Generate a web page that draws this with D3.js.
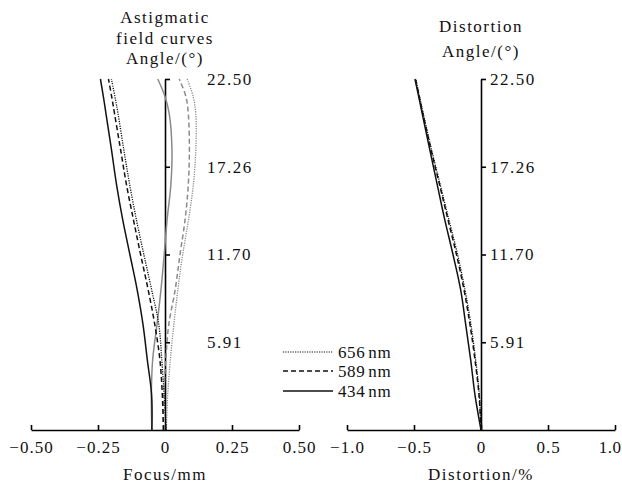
<!DOCTYPE html>
<html>
<head>
<meta charset="utf-8">
<script src="https://cdn.jsdelivr.net/npm/d3@7"></script>
<style>
  body { margin: 0; background: #fff; }
  text { font-family: "Liberation Serif", "DejaVu Serif", serif; fill: #111; }
</style>
</head>
<body>
<script>
// Page size
const width = 622;
const height = 486;

// Normalized field positions (0 = axis, 1 = full field of 22.50 deg)
var fields = [0, 0.1, 0.2, 0.3, 0.4, 0.5, 0.6, 0.7, 0.8, 0.9, 0.95, 1];
var fieldTicks = [0.25, 0.5, 0.75, 1];
var angleLabels = ["5.91", "11.70", "17.26", "22.50"];

// Astigmatic field curves (mm), sagittal = black, tangential = gray
var s656 = [0.005, -0.003, -0.012, -0.023, -0.050, -0.079, -0.107, -0.132, -0.154, -0.175, -0.187, -0.200];
var s589 = [-0.006, -0.010, -0.019, -0.038, -0.063, -0.091, -0.118, -0.144, -0.166, -0.188, -0.199, -0.211];
var s434 = [-0.049, -0.050, -0.066, -0.082, -0.104, -0.131, -0.158, -0.181, -0.200, -0.220, -0.230, -0.241];
var t656 = [0.005, 0.010, 0.020, 0.033, 0.048, 0.066, 0.088, 0.106, 0.115, 0.115, 0.105, 0.083];
var t589 = [-0.006, -0.004, 0.003, 0.014, 0.038, 0.056, 0.075, 0.087, 0.091, 0.087, 0.078, 0.053];
var t434 = [-0.049, -0.051, -0.046, -0.030, -0.015, -0.003, 0.008, 0.022, 0.026, 0.016, 0.000, -0.027];

// Distortion (%)
var d656 = [0, -0.012, -0.040, -0.075, -0.120, -0.175, -0.240, -0.305, -0.370, -0.430, -0.459, -0.487];
var d589 = [0, -0.015, -0.045, -0.082, -0.127, -0.183, -0.247, -0.310, -0.374, -0.433, -0.461, -0.489];
var d434 = [0, -0.045, -0.077, -0.114, -0.152, -0.209, -0.271, -0.327, -0.383, -0.438, -0.465, -0.493];

var focusTicks = [-0.5, -0.25, 0, 0.25, 0.5];
var distTicks = [-1, -0.5, 0, 0.5, 1];
var legendLabels = ["656", "589", "434"];

var gray = "#8a8a8a";
var dotted = "1.2,1.2";
var dashed = "5,3";

var svg = d3.select("body")
    .append("svg")
    .attr("width", width)
    .attr("height", height);

// Scales
var y = d3.scaleLinear().domain([0, 1]).range([430, 79]);
var xFocus = d3.scaleLinear().domain([-0.5, 0.5]).range([31, 299]);
var xDist = d3.scaleLinear().domain([-1, 1]).range([347, 615]);

var fmtTick = function(v, digits) {
    return v === 0 ? "0" : d3.format("." + digits + "f")(v);
};

function drawAxes(x, ticks, digits, labelPad, title) {
    // bottom axis, ticks pointing up
    var gx = svg.append("g")
        .attr("transform", "translate(0,430)")
        .call(d3.axisBottom(x)
            .tickValues(ticks)
            .tickFormat(function(d) { return fmtTick(d, digits); })
            .tickSizeInner(-5)
            .tickSizeOuter(0)
            .tickPadding(11));
    gx.select(".domain").attr("stroke-width", 1.6);
    gx.selectAll(".tick line").attr("stroke-width", 1.6);
    gx.selectAll("text")
        .attr("font-size", 17)
        .attr("letter-spacing", "1px")
        .attr("font-family", "Liberation Serif");

    // angle axis through zero
    var gy = svg.append("g")
        .attr("transform", "translate(" + x(0) + ",0)")
        .call(d3.axisRight(y)
            .tickValues(fieldTicks)
            .tickFormat(function(d, i) { return angleLabels[i]; })
            .tickSizeInner(5)
            .tickSizeOuter(0)
            .tickPadding(labelPad));
    gy.select(".domain").attr("stroke-width", 1.6);
    gy.selectAll(".tick line").attr("stroke-width", 1.6);
    gy.selectAll("text")
        .attr("font-size", 17)
        .attr("letter-spacing", "1.5px")
        .attr("font-family", "Liberation Serif");

    svg.append("text")
        .attr("x", x(0))
        .attr("y", 480)
        .attr("text-anchor", "middle")
        .attr("font-size", 17)
        .attr("letter-spacing", "1.5px")
        .text(title);
    return gx;
}

drawAxes(xFocus, focusTicks, 2, 37, "Focus/mm");
var gDist = drawAxes(xDist, distTicks, 1, 4, "Distortion/%");
// last label sits against the page edge
gDist.selectAll(".tick text").filter(function(d) { return d === 1; })
    .attr("text-anchor", "end")
    .attr("letter-spacing", "0.5px")
    .attr("x", 6);

// Titles
var titleLeft = [["Astigmatic", 23], ["field curves", 44], ["Angle/(\u00b0)", 64]];
titleLeft.forEach(function(t) {
    svg.append("text")
        .attr("x", xFocus(0))
        .attr("y", t[1])
        .attr("text-anchor", "middle")
        .attr("font-size", 17)
        .attr("letter-spacing", "1.5px")
        .text(t[0]);
});
var titleRight = [["Distortion", 32], ["Angle/(\u00b0)", 57]];
titleRight.forEach(function(t) {
    svg.append("text")
        .attr("x", xDist(0))
        .attr("y", t[1])
        .attr("text-anchor", "middle")
        .attr("font-size", 17)
        .attr("letter-spacing", "1.5px")
        .text(t[0]);
});

// Curves
function curve(x, values, color, dash, w) {
    var line = d3.line()
        .x(function(d, i) { return x(d); })
        .y(function(d, i) { return y(fields[i]); })
        .curve(d3.curveCatmullRom);
    svg.append("path")
        .datum(values)
        .attr("fill", "none")
        .attr("stroke", color)
        .attr("stroke-width", w)
        .attr("stroke-dasharray", dash)
        .attr("d", line);
}

curve(xFocus, t656, gray, dotted, 1.3);
curve(xFocus, t589, gray, dashed, 1.5);
curve(xFocus, t434, gray, null, 1.5);
curve(xFocus, s656, "#111", dotted, 1.3);
curve(xFocus, s589, "#111", dashed, 1.5);
curve(xFocus, s434, "#111", null, 1.5);

curve(xDist, d656, "#111", dotted, 1.3);
curve(xDist, d589, "#111", dashed, 1.5);
curve(xDist, d434, "#111", null, 1.5);

// Legend
var legendDash = [dotted, dashed, null];
var legendY = [352, 371, 391];
legendLabels.forEach(function(lbl, i) {
    svg.append("line")
        .attr("x1", 283).attr("x2", 333)
        .attr("y1", legendY[i]).attr("y2", legendY[i])
        .attr("stroke", "#111")
        .attr("stroke-width", i === 0 ? 1.2 : 1.5)
        .attr("stroke-dasharray", legendDash[i]);
    var t = svg.append("text")
        .attr("x", 338)
        .attr("y", legendY[i] + 5.5)
        .attr("font-size", 17)
        .attr("letter-spacing", "0.6px");
    t.append("tspan").text(lbl);
    t.append("tspan").attr("dx", 3).text("nm");
});
</script>
</body>
</html>
